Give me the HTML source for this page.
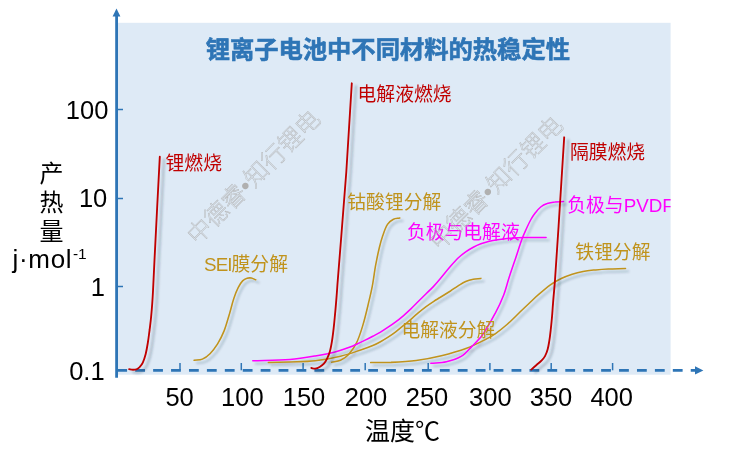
<!DOCTYPE html>
<html lang="zh-CN">
<head>
<meta charset="utf-8">
<title>锂离子电池中不同材料的热稳定性</title>
<style>
html,body{margin:0;padding:0;background:#fff;}
body{width:754px;height:460px;overflow:hidden;font-family:"Liberation Sans","Noto Sans CJK SC",sans-serif;}
svg{display:block;}
svg text{font-family:"Liberation Sans","Noto Sans CJK SC",sans-serif;}
.ax{font-size:25.5px;fill:#000;}
.cj{font-size:24px;}
.lb{font-size:18.8px;}
.wm{font-size:24px;font-family:"Noto Sans CJK SC","Liberation Sans",sans-serif;font-weight:300;fill:none;stroke:#b2b2b2;stroke-width:0.45px;}
</style>
</head>
<body>
<svg width="754" height="460" viewBox="0 0 754 460">
<defs>
<filter id="sh" x="-5%" y="-5%" width="112%" height="112%">
<feDropShadow dx="2.9" dy="2.8" stdDeviation="1" flood-color="#1a2a40" flood-opacity="0.27"/>
</filter>
<filter id="sh2" x="-8%" y="-5%" width="120%" height="112%">
<feDropShadow dx="4.2" dy="2.8" stdDeviation="1.2" flood-color="#1a2a40" flood-opacity="0.3"/>
</filter>
<clipPath id="plot"><rect x="118" y="22.7" width="552.6" height="352"/></clipPath>
</defs>
<rect x="0" y="0" width="754" height="460" fill="#fff"/>
<rect x="118" y="22.8" width="552.6" height="351.9" fill="#DEEAF6"/>

<!-- axes -->
<g stroke="#2E75B6" fill="none">
<line x1="116.6" y1="15" x2="116.6" y2="377.8" stroke-width="2.8"/>
<line x1="117.3" y1="370.35" x2="696" y2="370.35" stroke-width="2.7" stroke-dasharray="9.8 8.12"/>
<g stroke-width="1.5">
<line x1="180.0" y1="363" x2="180.0" y2="370.3"/><line x1="241.3" y1="363" x2="241.3" y2="370.3"/><line x1="303.1" y1="363" x2="303.1" y2="370.3"/><line x1="365.2" y1="363" x2="365.2" y2="370.3"/><line x1="428.2" y1="363" x2="428.2" y2="370.3"/><line x1="489.9" y1="363" x2="489.9" y2="370.3"/><line x1="551.2" y1="363" x2="551.2" y2="370.3"/><line x1="612.6" y1="363" x2="612.6" y2="370.3"/>
<line x1="117" y1="109.5" x2="123" y2="109.5"/><line x1="117" y1="198.5" x2="123" y2="198.5"/><line x1="117" y1="286.5" x2="123" y2="286.5"/>
</g>
</g>
<path d="M116.5 8.5 L120.4 16.4 L112.6 16.4 Z" fill="#2E75B6"/>
<path d="M703.4 370.4 L695 374.5 L695 366.3 Z" fill="#2E75B6"/>

<!-- curves -->
<g fill="none" stroke-linecap="round" stroke-linejoin="round" filter="url(#sh)">
<path d="M370.7 362.6 C377.4 362.5 384.2 362.7 390.9 362.4 C399.3 362.0 407.8 361.6 416.2 360.5 C424.7 359.4 433.1 357.7 441.4 355.7 C449.9 353.6 458.4 351.2 466.6 348.2 C473.0 345.8 479.1 342.7 485.2 339.6 C488.6 337.9 492.0 336.0 495.2 333.8 C499.3 330.9 503.2 327.8 507.0 324.5 C511.7 320.4 516.0 315.8 520.5 311.5 C523.7 308.5 526.8 305.5 530.0 302.5 C533.2 299.5 536.3 296.5 539.6 293.7 C543.1 290.6 546.6 287.5 550.4 284.8 C553.8 282.4 557.5 280.3 561.3 278.5 C564.8 276.8 568.5 275.4 572.2 274.2 C575.8 273.0 579.4 272.1 583.1 271.4 C587.3 270.6 591.5 270.3 595.7 269.9 C599.9 269.5 604.1 269.2 608.3 269.0 C614.0 268.7 619.8 268.7 625.5 268.5" stroke="#C0931C" stroke-width="1.55"/>
<path d="M268.3 362.4 C275.5 362.3 282.8 362.2 290.0 362.0 C298.4 361.7 306.8 361.8 315.2 360.8 C323.7 359.8 332.2 358.2 340.5 356.2 C347.4 354.6 354.0 352.2 360.7 350.0 C364.8 348.6 368.8 347.2 372.8 345.5 C375.4 344.4 378.0 343.1 380.5 341.7 C383.1 340.3 385.6 338.7 388.1 337.1 C390.7 335.4 393.2 333.7 395.7 331.8 C398.3 329.9 400.8 327.8 403.3 325.7 C405.9 323.6 408.4 321.5 410.9 319.3 C413.4 317.1 415.9 314.9 418.5 312.7 C421.0 310.6 423.5 308.5 426.1 306.6 C428.6 304.7 431.2 303.0 433.8 301.3 C435.8 300.0 437.9 298.8 440.0 297.5 C443.5 295.3 447.0 293.2 450.5 291.0 C453.1 289.3 455.5 287.4 458.1 285.8 C460.6 284.3 463.0 282.7 465.7 281.5 C468.1 280.4 470.7 279.7 473.3 279.2 C475.8 278.7 478.4 278.7 480.9 278.4" stroke="#C0931C" stroke-width="1.55"/>
<path d="M331.6 362.2 C334.6 361.6 337.7 361.6 340.5 360.3 C343.5 358.9 346.3 356.9 348.6 354.4 C351.7 351.0 354.4 347.2 356.4 343.1 C359.2 337.5 361.0 331.4 362.8 325.4 C364.8 318.8 366.4 312.0 368.0 305.2 C369.5 298.9 371.1 292.5 372.3 286.1 C373.6 279.4 374.3 272.6 375.5 265.9 C376.6 260.0 377.8 254.1 379.2 248.2 C380.2 244.0 381.4 239.7 382.8 235.6 C384.1 231.7 385.3 227.7 387.5 224.3 C388.9 222.1 391.2 220.4 393.5 219.2 C395.4 218.2 397.7 218.4 399.8 218.0" stroke="#C0931C" stroke-width="1.55"/>
<path d="M194.1 360.3 C196.9 359.9 199.8 360.2 202.4 359.1 C205.3 357.9 207.8 355.9 210.0 353.7 C212.9 350.8 215.4 347.4 217.6 343.9 C220.1 339.8 222.3 335.4 224.1 330.9 C226.3 325.2 227.8 319.3 229.6 313.5 C231.1 308.5 232.2 303.3 233.9 298.3 C235.1 294.6 236.5 290.9 238.3 287.4 C239.5 285.1 240.8 282.8 242.6 280.9 C243.8 279.7 245.4 278.8 247.0 278.3 C248.4 277.8 249.9 277.8 251.3 278.0 C252.9 278.3 254.2 279.2 255.7 279.8" stroke="#C0931C" stroke-width="1.55"/>
<path d="M252.8 360.8 C265.2 360.4 277.6 360.5 290.0 359.5 C298.5 358.8 306.8 357.4 315.2 356.0 C321.8 354.9 328.5 353.7 335.0 352.0 C340.1 350.7 345.1 348.8 350.0 347.0 C352.6 346.0 355.1 344.8 357.6 343.7 C360.2 342.5 362.7 341.3 365.2 340.1 C367.7 338.9 370.3 337.6 372.8 336.3 C375.4 334.9 378.0 333.6 380.5 332.1 C383.1 330.6 385.6 328.9 388.1 327.2 C390.7 325.5 393.2 323.8 395.7 321.9 C398.3 320.0 400.8 317.9 403.3 315.8 C405.9 313.6 408.4 311.3 410.9 308.9 C413.5 306.4 416.0 303.8 418.5 301.3 C421.0 298.8 423.6 296.2 426.1 293.7 C428.7 291.2 431.3 288.7 433.8 286.1 C436.0 283.8 438.0 281.4 440.0 279.0 C443.5 274.8 446.9 270.5 450.5 266.3 C452.9 263.5 455.4 260.6 458.1 258.0 C460.5 255.7 463.0 253.7 465.7 251.8 C468.1 250.1 470.7 248.6 473.3 247.2 C475.8 245.9 478.3 244.8 480.9 243.8 C483.4 242.9 485.9 242.2 488.5 241.5 C491.0 240.9 493.5 240.3 496.1 239.9 C498.7 239.5 501.2 239.2 503.8 238.9 C505.9 238.7 507.9 238.5 510.0 238.3 C512.6 238.1 515.2 237.9 517.8 237.8 C521.4 237.6 525.1 237.6 528.7 237.5 C534.5 237.4 540.3 237.4 546.1 237.4" stroke="#FF00FF" stroke-width="1.55"/>
<path d="M430.8 363.3 C436.0 362.8 441.3 363.0 446.4 361.8 C451.7 360.6 457.0 359.0 461.6 356.2 C465.6 353.8 468.4 349.9 471.7 346.6 C475.5 342.8 479.5 339.2 482.6 334.8 C487.4 328.0 491.3 320.6 495.2 313.3 C498.4 307.4 501.3 301.3 503.7 295.0 C505.9 289.3 507.2 283.4 509.1 277.6 C511.2 271.0 513.5 264.5 515.7 258.0 C517.9 251.5 519.8 244.9 522.2 238.5 C523.4 235.1 525.0 231.8 526.5 228.5 C527.9 225.5 529.3 222.4 530.9 219.5 C532.2 217.2 533.6 215.0 535.2 213.0 C536.9 210.9 538.6 208.7 540.7 207.0 C542.6 205.5 544.9 204.4 547.2 203.6 C549.6 202.7 552.2 202.3 554.8 202.0 C557.7 201.6 560.6 201.7 563.5 201.6" stroke="#FF00FF" stroke-width="1.55"/>
</g>
<g fill="none" stroke-linecap="round" stroke-linejoin="round" filter="url(#sh2)">
<path d="M129.1 369.2 C130.4 369.4 131.7 369.7 133.0 369.7 C134.2 369.7 135.4 369.7 136.5 369.3 C137.7 368.9 138.7 368.1 139.6 367.2 C140.9 365.8 142.0 364.3 142.8 362.6 C144.1 359.8 144.9 356.9 145.7 353.9 C146.6 350.3 147.2 346.7 147.8 343.0 C148.5 338.7 149.0 334.3 149.6 330.0 C150.1 325.7 150.7 321.3 151.1 317.0 C151.5 312.7 151.9 308.3 152.2 304.0 C152.5 299.7 152.8 295.3 153.0 291.0 C153.5 280.7 154.0 270.3 154.5 260.0 C156.2 225.6 158.0 191.1 159.8 156.7" stroke="#C00000" stroke-width="1.85"/>
<path d="M311.3 368.0 C312.6 368.2 313.9 368.8 315.2 368.6 C316.7 368.4 318.2 367.8 319.6 367.0 C321.2 366.1 322.7 365.1 323.9 363.7 C325.3 362.1 326.3 360.2 327.2 358.3 C328.2 356.2 329.2 354.0 329.8 351.7 C330.8 348.2 331.4 344.5 332.0 340.9 C332.7 336.6 333.2 332.2 333.7 327.8 C334.3 322.7 334.7 317.7 335.2 312.6 C335.7 307.5 336.1 302.5 336.5 297.4 C337.0 291.6 337.3 285.8 337.8 280.0 C340.6 244.0 343.7 208.0 346.3 172.0 C348.4 142.5 350.0 112.9 351.8 83.3" stroke="#C00000" stroke-width="1.85"/>
<path d="M531.3 369.6 C533.0 368.1 534.8 366.5 536.5 365.0 C538.2 363.5 540.1 362.1 541.7 360.4 C542.9 359.1 544.1 357.7 545.0 356.1 C546.1 354.1 547.0 351.8 547.6 349.6 C548.4 346.8 548.8 343.8 549.3 340.9 C549.9 337.3 550.3 333.6 550.7 330.0 C551.2 325.7 551.6 321.3 552.0 317.0 C552.4 312.6 552.6 308.3 553.0 303.9 C553.3 299.6 553.7 295.2 554.1 290.9 C554.4 287.3 554.7 283.6 555.0 280.0 C556.2 262.0 557.4 244.0 558.6 226.0 C560.5 196.4 562.3 166.9 564.2 137.3" stroke="#C00000" stroke-width="1.85"/>
</g>

<!-- title -->
<text transform="translate(387.8 58.1) scale(1 0.985)" text-anchor="middle" font-size="24.3" font-weight="bold" fill="#2E75B6" stroke="#2E75B6" stroke-width="0.6">锂离子电池中不同材料的热稳定性</text>

<!-- curve labels -->
<g class="lb">
<text x="165.6" y="170" fill="#C00000">锂燃烧</text>
<text x="357.6" y="100.7" fill="#C00000">电解液燃烧</text>
<text x="570" y="159" fill="#C00000">隔膜燃烧</text>
<text x="204" y="270.8" fill="#C0931C"><tspan letter-spacing="-0.9">SEI</tspan>膜分解</text>
<text x="347.3" y="208.7" fill="#C0931C">钴酸锂分解</text>
<text x="401.5" y="337" fill="#C0931C">电解液分解</text>
<text x="575.3" y="259.3" fill="#C0931C">铁锂分解</text>
<text x="407" y="238.6" fill="#FF00FF">负极与电解液</text>
<text x="567.3" y="212" fill="#FF00FF" clip-path="url(#plot)">负极与PVDF</text>
</g>

<!-- axis labels -->
<g class="ax">
<text x="179.6" y="405.6" text-anchor="middle">50</text><text x="242.3" y="406.3" text-anchor="middle">100</text><text x="304.0" y="405.8" text-anchor="middle">150</text><text x="366.0" y="405.8" text-anchor="middle">200</text><text x="427.0" y="405.8" text-anchor="middle">250</text><text x="490.3" y="405.8" text-anchor="middle">300</text><text x="551.0" y="405.8" text-anchor="middle">350</text><text x="611.7" y="405.8" text-anchor="middle">400</text>
<text x="108.4" y="119.3" text-anchor="end">100</text><text x="107.3" y="207.3" text-anchor="end">10</text><text x="105.0" y="296.2" text-anchor="end">1</text><text x="104.6" y="379.5" text-anchor="end">0.1</text>
<text class="cj" x="51.5" y="182" text-anchor="middle">产</text>
<text class="cj" x="51.5" y="211" text-anchor="middle">热</text>
<text class="cj" x="51.5" y="240" text-anchor="middle">量</text>
<text x="12.5" y="268" font-size="26"><tspan letter-spacing="0.7">j·mol</tspan><tspan font-size="15.5" dy="-8.6" dx="0.6">-1</tspan></text>
<text class="cj" x="402.5" y="440.3" text-anchor="middle" style="font-size:25px">温度℃</text>
</g>
<!-- watermarks -->
<g class="wm">
<text transform="translate(253.5 177) rotate(-45)" text-anchor="middle" y="8.5">中德睿<tspan fill="#b0b0b0" stroke="none">•</tspan>知行锂电</text>
<text transform="translate(496 183) rotate(-45)" text-anchor="middle" y="8.5">中德睿<tspan fill="#b0b0b0" stroke="none">•</tspan>知行锂电</text>
</g>
</svg>
</body>
</html>
